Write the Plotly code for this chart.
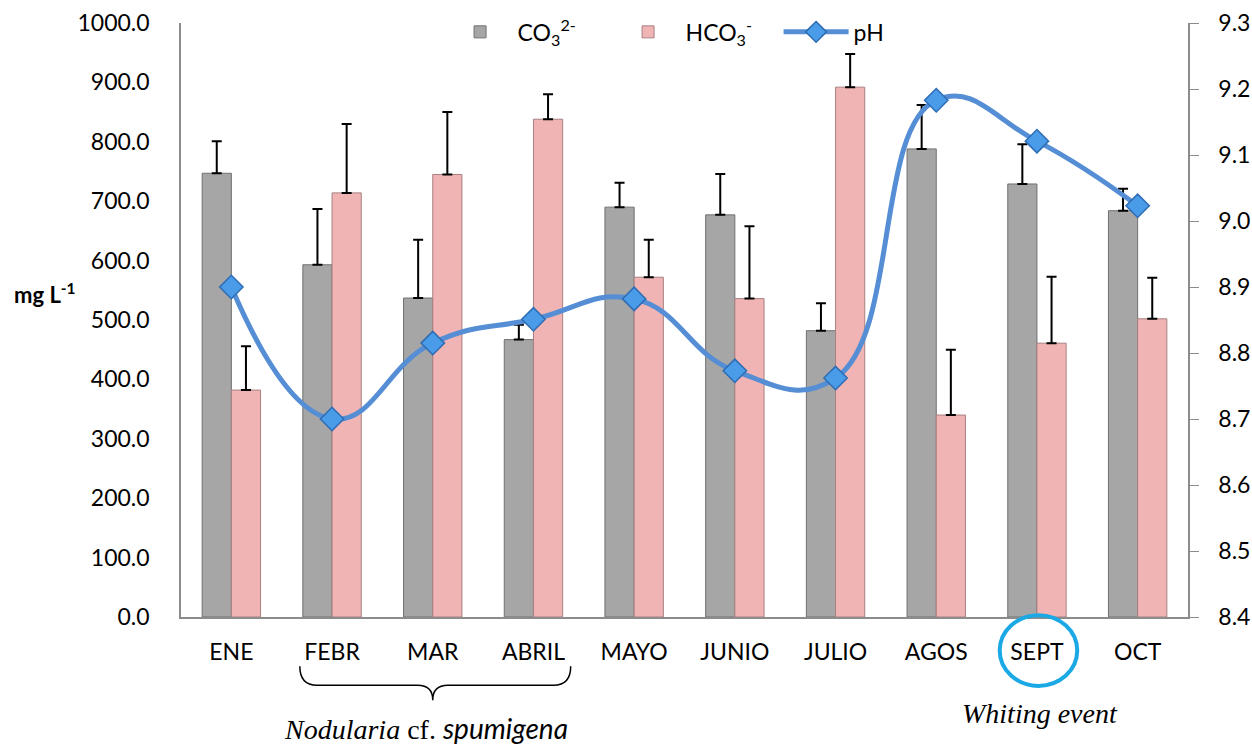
import plotly.graph_objects as go

months = ["ENE", "FEBR", "MAR", "ABRIL", "MAYO", "JUNIO", "JULIO", "AGOS", "SEPT", "OCT"]
co3 = [747, 593, 537, 467, 690, 677, 482, 788, 729, 684]
co3_err = [54, 94, 98, 25, 41, 69, 46, 74, 67, 37]
hco3 = [382, 714, 745, 838, 572, 536, 892, 340, 461, 502]
hco3_err = [74, 116, 105, 42, 63, 122, 56, 110, 112, 69]
ph = [8.90, 8.70, 8.815, 8.851, 8.882, 8.773, 8.762, 9.183, 9.121, 9.023]
left_ticks = [0, 100, 200, 300, 400, 500, 600, 700, 800, 900, 1000]
right_ticks = [8.4, 8.5, 8.6, 8.7, 8.8, 8.9, 9.0, 9.1, 9.2, 9.3]

FONT = "Lato"
FS = 23

fig = go.Figure()
fig.add_trace(go.Bar(
    x=months, y=co3, name="CO<sub>3</sub><sup>2-</sup>",
    marker=dict(color="#A6A6A6", line=dict(color="#707070", width=1)),
    error_y=dict(type="data", array=co3_err, arrayminus=[0]*10, symmetric=False,
                 color="black", thickness=2, width=5),
))
fig.add_trace(go.Bar(
    x=months, y=hco3, name="HCO<sub>3</sub><sup>-</sup>",
    marker=dict(color="#F0B4B4", line=dict(color="#A88080", width=1)),
    error_y=dict(type="data", array=hco3_err, arrayminus=[0]*10, symmetric=False,
                 color="black", thickness=2, width=5),
))
fig.add_trace(go.Scatter(
    x=months, y=ph, name="pH", yaxis="y2", mode="lines+markers",
    line=dict(color="#558ED5", width=5, shape="spline", smoothing=1.3),
    marker=dict(symbol="diamond", size=18, color="#4A9BE8",
                line=dict(color="#2E6DB4", width=1.5)),
))

fig.update_layout(
    width=1252, height=747,
    margin=dict(l=181, r=64, t=23, b=130, autoexpand=False),
    paper_bgcolor="white", plot_bgcolor="white",
    font=dict(family=FONT, size=FS, color="black"),
    barmode="group", bargap=0.42, bargroupgap=0,
    showlegend=True,
    legend=dict(orientation="h", x=0.51, xanchor="center", y=0.985, yanchor="middle",
                font=dict(family=FONT, size=FS), bgcolor="rgba(0,0,0,0)",
                itemwidth=65, entrywidth=88, traceorder="normal"),
    xaxis=dict(range=[-0.5, 9.5], showline=True, linecolor="#8C8C8C", linewidth=1.5,
               showgrid=False, ticks="", ticklabelstandoff=14, tickfont=dict(size=FS),
               automargin=False),
    yaxis=dict(range=[0, 1000], tickvals=left_ticks, tickformat=".1f",
               showline=True, linecolor="#8C8C8C", linewidth=1.5, showgrid=False,
               zeroline=False, ticks="", ticklabelstandoff=25, automargin=False),
    yaxis2=dict(range=[8.4, 9.3], tickvals=right_ticks, tickformat=".1f",
                overlaying="y", side="right", showline=True, linecolor="#8C8C8C",
                linewidth=1.5, showgrid=False, zeroline=False, automargin=False,
                ticks="outside", ticklen=9, tickcolor="#8C8C8C", ticklabelstandoff=15),
)

# y-axis title
fig.add_annotation(text="<b>mg L<sup>-1</sup></b>", xref="paper", yref="paper",
                   x=-0.135, y=0.545, xanchor="center", showarrow=False,
                   font=dict(size=22, family=FONT))

# brace under FEBR..ABRIL
yb0, yb1, yb2 = -0.083, -0.115, -0.14
brace = (f"M 0.68,{yb0} Q 0.68,{yb1} 0.85,{yb1} L 1.85,{yb1} Q 2.0,{yb1} 2.0,{yb2} "
         f"Q 2.0,{yb1} 2.15,{yb1} L 3.2,{yb1} Q 3.37,{yb1} 3.37,{yb0}")
fig.add_shape(type="path", path=brace, xref="x", yref="paper",
              line=dict(color="black", width=1.5))
fig.add_annotation(
    text="<i>Nodularia</i> cf. <span style='font-family:Lato'><i>spumigena</i></span>",
    xref="x", yref="paper", x=1.93, y=-0.19, yshift=-17, xanchor="center",
    showarrow=False, font=dict(family="Liberation Serif", size=28, color="black"))

# circle around SEPT
fig.add_shape(type="circle", xref="x", yref="paper", x0=7.63, x1=8.4,
              y0=-0.116, y1=0.003, line=dict(color="#1BA9E6", width=4))
fig.add_annotation(text="<i>Whiting event</i>", xref="x", yref="paper",
                   x=8.03, y=-0.162, yshift=-18, xanchor="center", showarrow=False,
                   font=dict(family="Liberation Serif", size=28, color="black"))

fig.write_html(
    "out.html",
    config={"displayModeBar": False},
    post_script="document.body.style.margin='0';document.body.style.overflow='hidden';",
)
